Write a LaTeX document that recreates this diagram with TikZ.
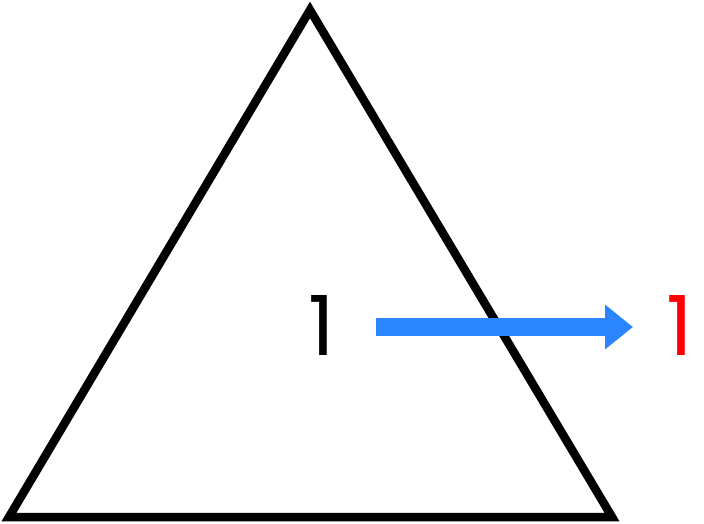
\documentclass[tikz,border=0pt]{standalone}
\usepackage{fontspec}
\setmainfont{Poppins}
\usetikzlibrary{arrows.meta}
\definecolor{arrowblue}{RGB}{43,133,255}
\definecolor{numred}{RGB}{255,0,0}
\tikzset{
  tri/.style={draw=black, line width=8.5pt, line join=miter},
  num/.style={font=\fontsize{83}{83}\selectfont, inner sep=0pt, anchor=base},
  bluearrow/.style={draw=arrowblue, line width=18pt, -{Triangle[length=28pt,width=43pt]}}
}
\begin{document}
\begin{tikzpicture}[x=1pt,y=-1pt]
\useasboundingbox (0,0) rectangle (704,524);
\draw[tri] (310,10) coordinate (apex) -- (9,517) coordinate (bl) -- (612,517) coordinate (br) -- cycle;
\node[num, text=black] (n1) at (322,355) {1};
\node[num, text=numred] (n2) at (680,355) {1};
\coordinate (as) at (376,327);
\coordinate (ae) at (633,327);
\draw[bluearrow] (as) -- (ae);
\end{tikzpicture}
\end{document}
